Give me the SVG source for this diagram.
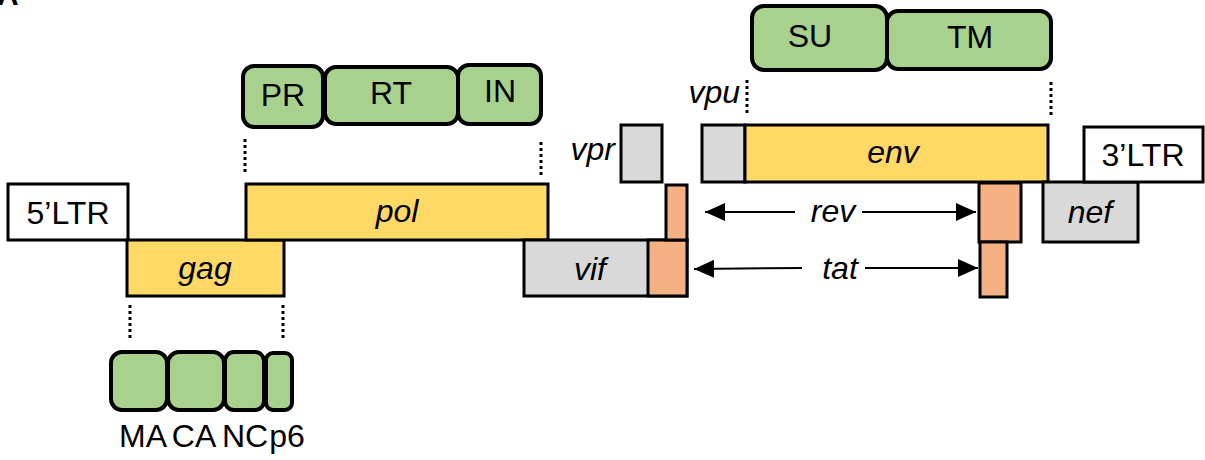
<svg xmlns="http://www.w3.org/2000/svg" width="1205" height="460" viewBox="0 0 1205 460">
  <style>
    .box { stroke: #000; stroke-width: 3; }
    .dom { fill: #A9D18E; stroke: #000; stroke-width: 4; }
    .ltr { fill: #FFFFFF; }
    .yel { fill: #FFD966; }
    .gry { fill: #D9D9D9; }
    .org { fill: #F4B183; }
    .lbl { font-family: "Liberation Sans", Arial, sans-serif; font-size: 32px; fill: #000; }
    .gene { font-style: italic; }
    .dot { stroke: #000; stroke-width: 3; stroke-dasharray: 3 3; fill: none; }
    .arr { stroke: #000; stroke-width: 2; fill: none; }
  </style>
  <defs>
    <marker id="head" viewBox="0 0 20 18" refX="20" refY="9" markerWidth="20" markerHeight="18" markerUnits="userSpaceOnUse" orient="auto-start-reverse">
      <path d="M0,0 L20,9 L0,18 Z" fill="#000"/>
    </marker>
  </defs>
  <rect width="1205" height="460" fill="#FFFFFF"/>

  <!-- panel letter, running off the top edge -->
  <text x="-3" y="5" style="font-family: 'Liberation Sans', Arial, sans-serif; font-size: 30px; font-weight: bold;">A</text>

  <!-- 5' LTR -->
  <g id="ltr5">
    <rect class="box ltr" x="8" y="184" width="120" height="56"/>
    <text class="lbl" x="68" y="224" text-anchor="middle">5’LTR</text>
  </g>

  <!-- gag -->
  <g id="gag">
    <rect class="box yel" x="127" y="240" width="157" height="56"/>
    <text class="lbl gene" x="205" y="279" text-anchor="middle">gag</text>
  </g>

  <!-- pol -->
  <g id="pol">
    <rect class="box yel" x="246" y="184" width="302" height="56"/>
    <text class="lbl gene" x="397" y="222" text-anchor="middle">pol</text>
  </g>

  <!-- pol products -->
  <g id="pr">
    <rect class="dom" x="243" y="66" width="80" height="61" rx="11"/>
    <text class="lbl" x="283" y="106" text-anchor="middle">PR</text>
  </g>
  <g id="rt">
    <rect class="dom" x="325" y="67" width="133" height="57" rx="11"/>
    <text class="lbl" x="391" y="104" text-anchor="middle">RT</text>
  </g>
  <g id="in">
    <rect class="dom" x="458" y="65" width="83" height="59" rx="11"/>
    <text class="lbl" x="500" y="102" text-anchor="middle">IN</text>
  </g>

  <!-- gag products -->
  <g id="ma">
    <rect class="dom" x="111" y="352" width="56" height="58" rx="11"/>
    <text class="lbl" x="143" y="447" text-anchor="middle">MA</text>
  </g>
  <g id="ca">
    <rect class="dom" x="168" y="352" width="56" height="58" rx="11"/>
    <text class="lbl" x="194" y="447" text-anchor="middle">CA</text>
  </g>
  <g id="nc">
    <rect class="dom" x="225" y="352" width="39" height="58" rx="9"/>
    <text class="lbl" x="245" y="447" text-anchor="middle">NC</text>
  </g>
  <g id="p6">
    <rect class="dom" x="266" y="353" width="26" height="57" rx="7"/>
    <text class="lbl" x="287" y="447" text-anchor="middle">p6</text>
  </g>

  <!-- vif with tat/rev first exon -->
  <g id="vif">
    <rect class="box gry" x="524" y="240" width="163" height="56"/>
    <rect class="box org" x="648" y="240" width="39" height="56"/>
    <text class="lbl gene" x="590" y="280" text-anchor="middle">vif</text>
  </g>
  <g id="exon1">
    <rect class="box org" x="666" y="185" width="21" height="55"/>
  </g>

  <!-- vpr -->
  <g id="vpr">
    <rect class="box gry" x="621" y="125" width="41" height="57"/>
    <text class="lbl gene" x="615" y="160" text-anchor="end">vpr</text>
  </g>

  <!-- vpu -->
  <g id="vpu">
    <rect class="box gry" x="702" y="125" width="43" height="57"/>
    <text class="lbl gene" x="740" y="103" text-anchor="end">vpu</text>
  </g>

  <!-- env -->
  <g id="env">
    <rect class="box yel" x="745" y="125" width="303" height="57"/>
    <text class="lbl gene" x="893" y="163" text-anchor="middle">env</text>
  </g>

  <!-- env products -->
  <g id="su">
    <rect class="dom" x="752" y="6" width="135" height="64" rx="12"/>
    <text class="lbl" x="810" y="47" text-anchor="middle">SU</text>
  </g>
  <g id="tm">
    <rect class="dom" x="887" y="11" width="164" height="58" rx="11"/>
    <text class="lbl" x="970" y="48" text-anchor="middle">TM</text>
  </g>

  <!-- rev / tat second exons -->
  <g id="rev">
    <rect class="box org" x="979" y="183" width="42" height="59"/>
    <text class="lbl gene" x="833" y="222" text-anchor="middle">rev</text>
  </g>
  <g id="tat">
    <rect class="box org" x="980" y="242" width="27" height="55"/>
    <text class="lbl gene" x="840" y="279" text-anchor="middle">tat</text>
  </g>

  <!-- nef -->
  <g id="nef">
    <rect class="box gry" x="1043" y="182" width="95" height="60"/>
    <text class="lbl gene" x="1090" y="223" text-anchor="middle">nef</text>
  </g>

  <!-- 3' LTR -->
  <g id="ltr3">
    <rect class="box ltr" x="1084" y="127" width="119" height="55"/>
    <text class="lbl" x="1143" y="166" text-anchor="middle">3’LTR</text>
  </g>

  <!-- connectors: cleavage guides and splice arrows -->
  <g id="connectors">
    <line class="dot" x1="245" y1="139" x2="245" y2="173"/>
    <line class="dot" x1="541" y1="142" x2="541" y2="175"/>
    <line class="dot" x1="130" y1="305" x2="130" y2="339"/>
    <line class="dot" x1="283" y1="305" x2="283" y2="339"/>
    <line class="dot" x1="747" y1="80" x2="747" y2="113"/>
    <line class="dot" x1="1051" y1="82" x2="1051" y2="116"/>
    <line class="arr" x1="795" y1="212" x2="705" y2="212" marker-end="url(#head)"/>
    <line class="arr" x1="862" y1="212" x2="976" y2="212" marker-end="url(#head)"/>
    <line class="arr" x1="802" y1="268" x2="694" y2="269" marker-end="url(#head)"/>
    <line class="arr" x1="865" y1="268" x2="978" y2="268" marker-end="url(#head)"/>
  </g>
</svg>
